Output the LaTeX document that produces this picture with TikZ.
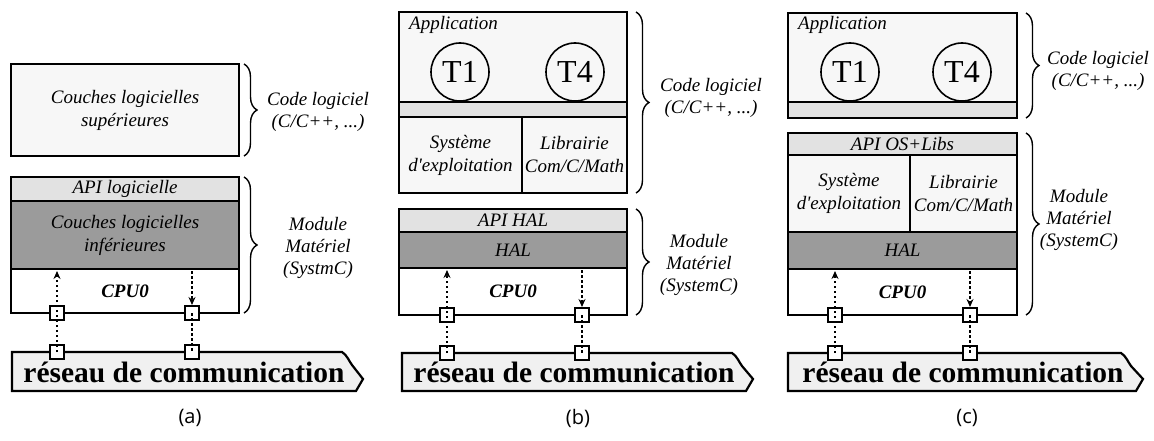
\documentclass[tikz,border=0pt]{standalone}
\usepackage{fontspec}
\setmainfont{Liberation Serif}
\newfontfamily\capfont{Open Sans}
\usetikzlibrary{decorations.pathreplacing,arrows.meta}
\definecolor{boxlight}{HTML}{F7F7F7}
\definecolor{apigray}{HTML}{E2E2E2}
\definecolor{halgray}{HTML}{9B9B9B}
\definecolor{netgray}{HTML}{F0F0F0}
\tikzset{
  lay/.style={draw, line width=2.2pt, inner sep=0pt, font=\fontsize{19}{23}\selectfont\itshape, align=center},
  light/.style={lay, fill=boxlight},
  apil/.style={lay, fill=apigray},
  darkl/.style={lay, fill=halgray},
  cpul/.style={lay, fill=white, font=\fontsize{19}{23}\selectfont\bfseries\itshape},
  txt/.style={font=\fontsize{19}{22}\selectfont\itshape, align=center, inner sep=0pt},
  task/.style={circle, draw, line width=1.6pt, fill=boxlight, minimum size=58pt, inner sep=0pt, font=\fontsize{32}{32}\selectfont},
  port/.style={draw, line width=2pt, fill=white, minimum size=14pt, inner sep=0pt},
  dots/.style={line width=2pt, dash pattern=on 2.5pt off 2.5pt},
  arr/.style={-{Stealth[length=8pt,width=7pt]}},
  brc/.style={decorate, decoration={brace, amplitude=13pt}, line width=1.4pt},
  net/.style={draw, line width=2.2pt, fill=netgray},
  nettxt/.style={font=\fontsize{29.5}{30}\selectfont\bfseries, inner sep=0pt},
  captxt/.style={font=\capfont\fontsize{20}{20}\selectfont, inner sep=0pt}
}
\begin{document}
\begin{tikzpicture}[x=1pt,y=-1pt]
\useasboundingbox (0,0) rectangle (1154,441);

% ================= (a) =================
\node[light, minimum width=228pt, minimum height=92pt] (upA) at (125,110) {Couches logicielles\\supérieures};
\node[apil, minimum width=228pt, minimum height=24pt] (apiA) at (125,189) {API logicielle};
\node[darkl, minimum width=228pt, minimum height=68pt] (lowA) at (125,235) {Couches logicielles\\inférieures};
\node[cpul, minimum width=228pt, minimum height=44pt] (cpuA) at (125,291) {CPU0};
\draw[brc] (244,64) -- (244,156);
\node[txt] (codeA) at (318,112) {Code logiciel\\(C/C++, ...)};
\draw[brc] (244,177) -- (244,313);
\node[txt] (modA) at (318,248) {Module\\Matériel\\(SystmC)};
\draw[net] (12,352) -- (342,352) .. controls (347,355) and (349,361) .. (352,365) -- (363,379) -- (356,391) -- (12,391) -- cycle;
\node[nettxt] (netA) at (184,372) {réseau de communication};
\node[port] (pA1) at (57,313) {};
\node[port] (pA2) at (192,313) {};
\node[port] (qA1) at (57,352) {};
\node[port] (qA2) at (192,352) {};
\coordinate (tA1) at (57,271);
\coordinate (tA2) at (192,271);
\draw[dots, arr] (qA1.center) -- (tA1);
\draw[dots, arr] (tA2) -- (pA2.north);
\draw[dots] (pA2.center) -- (qA2.center);
\node[captxt] (capA) at (190,418) {(a)};

% ================= (b) =================
\node[light, minimum width=228pt, minimum height=90pt] (appB) at (513,57) {};
\node[txt, anchor=west] (appLB) at (409,25) {Application};
\node[task] (t1B) at (460,72) {T1};
\node[task] (t4B) at (575,72) {T4};
\node[apil, minimum width=228pt, minimum height=15pt] (stripB) at (513,109.5) {};
\node[light, minimum width=123pt, minimum height=76pt] (osB) at (460.5,155) {Système\\d\textquotesingle exploitation};
\node[light, minimum width=105pt, minimum height=76pt] (libB) at (574.5,155) {Librairie\\Com/C/Math};
\node[apil, minimum width=228pt, minimum height=23pt] (apiB) at (513,220.5) {API HAL};
\node[darkl, minimum width=228pt, minimum height=36pt] (halB) at (513,250) {HAL};
\node[cpul, minimum width=228pt, minimum height=47pt] (cpuB) at (513,291.5) {CPU0};
\draw[brc] (636,12) -- (636,193);
\node[txt] (codeB) at (711,98) {Code logiciel\\(C/C++, ...)};
\draw[brc] (636,209) -- (636,315);
\node[txt] (modB) at (699,265) {Module\\Matériel\\(SystemC)};
\draw[net] (402,353) -- (732,353) .. controls (737,356) and (739,362) .. (742,366) -- (753,379) -- (746,391) -- (402,391) -- cycle;
\node[nettxt] (netB) at (574,372) {réseau de communication};
\node[port] (pB1) at (447,315) {};
\node[port] (pB2) at (582,315) {};
\node[port] (qB1) at (447,353) {};
\node[port] (qB2) at (582,353) {};
\coordinate (tB1) at (447,270);
\coordinate (tB2) at (582,270);
\draw[dots, arr] (qB1.center) -- (tB1);
\draw[dots, arr] (tB2) -- (pB2.north);
\draw[dots] (pB2.center) -- (qB2.center);
\node[captxt] (capB) at (578,418) {(b)};

% ================= (c) =================
\node[light, minimum width=229pt, minimum height=89pt] (appC) at (902.5,57.5) {};
\node[txt, anchor=west] (appLC) at (798,25) {Application};
\node[task] (t1C) at (850,72) {T1};
\node[task] (t4C) at (962,72) {T4};
\node[apil, minimum width=229pt, minimum height=16pt] (stripC) at (902.5,110) {};
\node[apil, minimum width=229pt, minimum height=22pt] (apiC) at (902.5,144) {API OS+Libs};
\node[light, minimum width=122pt, minimum height=77pt] (osC) at (849,193.5) {Système\\d\textquotesingle exploitation};
\node[light, minimum width=107pt, minimum height=77pt] (libC) at (963.5,193.5) {Librairie\\Com/C/Math};
\node[darkl, minimum width=229pt, minimum height=37pt] (halC) at (902.5,250.5) {HAL};
\node[cpul, minimum width=229pt, minimum height=46pt] (cpuC) at (902.5,292) {CPU0};
\draw[brc] (1026,13) -- (1026,118);
\node[txt] (codeC) at (1098,71) {Code logiciel\\(C/C++, ...)};
\draw[brc] (1026,133) -- (1026,315);
\node[txt] (modC) at (1079,220) {Module\\Matériel\\(SystemC)};
\draw[net] (788,353) -- (1121,353) .. controls (1126,356) and (1128,362) .. (1131,366) -- (1143,379) -- (1136,391) -- (788,391) -- cycle;
\node[nettxt] (netC) at (963,372) {réseau de communication};
\node[port] (pC1) at (835,315) {};
\node[port] (pC2) at (970,315) {};
\node[port] (qC1) at (835,353) {};
\node[port] (qC2) at (970,353) {};
\coordinate (tC1) at (835,271);
\coordinate (tC2) at (970,271);
\draw[dots, arr] (qC1.center) -- (tC1);
\draw[dots, arr] (tC2) -- (pC2.north);
\draw[dots] (pC2.center) -- (qC2.center);
\node[captxt] (capC) at (967,418) {(c)};
\end{tikzpicture}
\end{document}
